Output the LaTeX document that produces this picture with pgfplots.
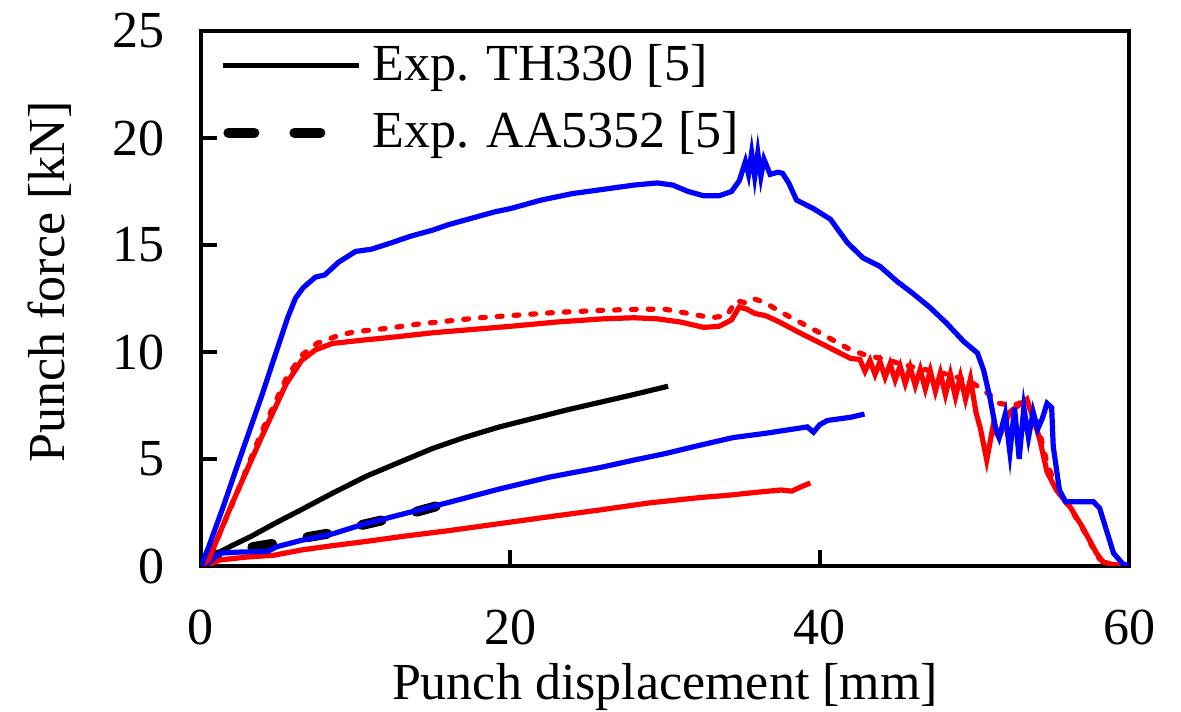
\documentclass[border=0pt]{standalone}
\usepackage{fontspec}
\setmainfont{Liberation Serif}
\usepackage{pgfplots}
\pgfplotsset{compat=1.18}
\usetikzlibrary{calc}
\definecolor{myred}{RGB}{255,0,0}
\definecolor{myblue}{RGB}{0,0,255}
\newcommand{\ff}{\fontsize{13pt}{15pt}\selectfont}
\pgfplotsset{
  longlegend/.style={legend image code/.code={\draw[##1] (0pt,0pt) -- (34pt,0pt);}},
  shortlegend/.style={legend image code/.code={\draw[##1, dash pattern=on 6.5pt off 10pt] (1.25pt,0pt) -- (25pt,0pt);}},
}
\begin{document}
\begin{tikzpicture}
\begin{axis}[name=ax, at={(0,0)}, anchor=south west,
  scale only axis, width=232pt, height=133.75pt,
  xmin=0, xmax=60, ymin=0, ymax=25,
  xtick={0,20,40,60}, ytick={0,5,10,15,20,25},
  xtick pos=left, ytick pos=left, tick align=inside, major tick length=4pt,
  every tick/.style={line width=1pt, black},
  axis line style={line width=1pt},
  /pgf/number format/assume math mode=true,
  tick label style={font=\ff},
  xticklabel style={yshift=-7.5pt},
  yticklabel style={xshift=-5.5pt},
  xlabel={Punch displacement [mm]},
  ylabel={Punch force [kN]},
  xlabel style={font=\ff, at={(axis description cs:0.5,0)}, anchor=base, yshift=-33.5pt},
  ylabel style={font=\ff, at={(axis description cs:-0.1627,0.531)}, anchor=center},
  legend style={at={(axis description cs:0,1)}, anchor=north west, xshift=4.75pt, yshift=-3.25pt,
    draw=none, fill=none, font=\ff, inner sep=0pt, row sep=6.2pt,
    nodes={inner sep=0pt},
    /tikz/every odd column/.append style={column sep=2.6pt}},
  legend cell align=left,
]
% Exp TH330 (black solid)
\addplot[black, line width=1.3pt, longlegend] coordinates {
(0,0) (0.6,0.5) (1.2,0.65) (2,0.95) (3.2,1.37) (4.8,2.0) (6.4,2.6) (8.5,3.4) (10.7,4.2) (13,4.9) (15,5.5) (17,6.0) (19.3,6.5) (21.5,6.9) (23.7,7.3) (25.8,7.65) (27.9,8.0) (30.2,8.4)
};
\addlegendentry{Exp. TH330 [5]}
% Exp AA5352 (black dashed)
\addplot[black, line width=2.5pt, line cap=round, dash pattern=on 5pt off 9pt, shortlegend] coordinates {
(0,0) (0.6,0.35) (1.2,0.6) (2.1,0.75) (3.5,0.9) (4.9,1.07) (6.5,1.3) (8.5,1.55) (10,1.85) (11.8,2.15) (14,2.55) (15.9,2.93)
};
\addlegendentry{Exp. AA5352 [5]}
% red lower
\addplot[myred, line width=1.3pt, forget plot] coordinates {
(0,0) (0.5,0.05) (1.2,0.28) (3,0.42) (4.7,0.5) (6.5,0.75) (8.5,0.95) (10.7,1.15) (13,1.38) (16,1.65) (19.3,1.98) (22.5,2.3) (25.8,2.62) (29,2.95) (32.3,3.2) (34,3.3) (36,3.45) (37.5,3.55) (38.2,3.5) (38.8,3.7) (39.4,3.88)
};
% blue lower
\addplot[myblue, line width=1.3pt, forget plot] coordinates {
(0,0) (0.4,0.1) (1.2,0.6) (2.5,0.65) (4.3,0.68) (4.9,0.9) (6.5,1.2) (8.5,1.5) (10.5,1.95) (12.9,2.4) (15.9,2.95) (19.3,3.6) (22.5,4.15) (25.8,4.6) (28,4.95) (30,5.25) (32.3,5.65) (34.4,6.0) (36.5,6.2) (39.2,6.5) (39.6,6.25) (40,6.6) (40.5,6.8) (42,6.95) (42.9,7.1)
};
% red dotted upper
\addplot[myred, line width=1.3pt, line cap=round, dash pattern=on 1.2pt off 3pt, forget plot] coordinates {
(0,0) (0.6,0.5) (2.2,3.2) (4,6.4) (5.6,8.9) (6.6,9.9) (7.5,10.4) (9,10.8) (10,10.95) (12,11.1) (14,11.3) (16,11.45) (18,11.6) (20,11.7) (23,11.85) (26,11.95) (28.5,12.0) (30,12.0) (31.5,11.8) (33,11.6) (34,11.7) (34.6,12.4) (35.2,12.3) (35.7,12.5) (36.5,12.3) (37.4,11.9) (38.7,11.4) (40,10.9) (41,10.5) (42,10.1) (43,9.85) (44,9.7) (45,9.5) (46,9.3) (47,9.15) (48,9.0) (49,8.8) (50,8.5) (51,8.0) (51.6,7.6) (52.5,7.5) (53.3,7.7) (54,6.9) (54.7,4.8) (55.4,3.5) (56.3,2.6) (57.2,1.5) (58.0,0.4) (58.5,0.1) (60,0)
};
% red solid upper
\addplot[myred, line width=1.3pt, forget plot] coordinates {
(0,0) (0.5,0.3) (2,2.9) (3.9,6.0) (5.5,8.5) (6.5,9.6) (7.4,10.1) (8.5,10.4) (10.4,10.55) (12.5,10.7) (15,10.9) (17.5,11.05) (20,11.2) (23,11.4) (26,11.55) (28,11.6) (29.5,11.55) (31,11.4) (32.5,11.15) (33.5,11.2) (34.3,11.5) (34.8,12.1) (35.3,12.0) (35.8,11.8) (36.5,11.7) (37.4,11.4) (38.7,10.9) (40.5,10.25) (42,9.7)
(42.6,9.65) (42.93,9.1) (43.25,9.6) (43.58,8.95) (43.9,9.55) (44.23,8.82) (44.55,9.44) (44.88,8.69) (45.2,9.34) (45.53,8.53) (45.85,9.28) (46.18,8.43) (46.5,9.18) (46.83,8.27) (47.15,9.12) (47.48,8.17) (47.8,9.01) (48.13,8.01) (48.45,8.96) (48.78,7.9) (49.1,8.85) (49.43,7.8) (49.75,8.75) (50.1,7.2) (50.4,6.4)
(50.8,4.95) (51.2,6.5) (51.6,6.0) (52.3,7.2) (53.4,7.8) (54.2,6.0) (54.7,4.4) (55.3,3.55) (56.2,2.75) (57,1.8) (57.9,0.6) (58.3,0.2) (59,0.05) (60,0)
};
% blue upper
\addplot[myblue, line width=1.3pt, forget plot] coordinates {
(0,0) (0.5,0.9) (1.5,2.9) (2.4,4.8) (3.9,7.9) (5.0,10.3) (5.6,11.6) (6.1,12.5) (6.6,13.0) (7.4,13.5) (8.0,13.6) (8.9,14.2) (10,14.7) (11,14.8) (12.3,15.1) (13.5,15.4) (15,15.7) (16,15.95) (17,16.15) (18,16.35) (19,16.55) (20,16.7) (22,17.1) (24,17.4) (26,17.6) (28,17.8) (29.5,17.9) (30.5,17.8) (31.5,17.5) (32.5,17.3) (33.5,17.3) (34.3,17.5) (34.8,18.0) (35.2,18.9) (35.4,18.3) (35.6,19.3) (35.8,18.2) (36.0,19.3) (36.2,18.2) (36.4,19.0) (36.8,18.3) (37.3,18.4) (37.6,18.35) (38.0,17.9) (38.5,17.1) (39.6,16.7) (40.7,16.2) (41.8,15.1) (42.8,14.4) (43.9,14.0) (45.0,13.3) (46.0,12.75) (47.1,12.1) (48.2,11.35) (49.3,10.5) (50.2,9.95) (50.6,9.15) (51,7.9) (51.4,6.35) (51.6,6.0) (52.0,7.1) (52.3,5.3) (52.6,7.4) (52.9,5.0) (53.2,7.4) (53.5,6.0) (53.8,7.2) (54.1,6.4) (54.4,6.9) (54.7,7.6) (55.0,7.4) (55.1,5.6) (55.5,3.55) (55.9,3.0) (57.7,3.0) (58.1,2.7) (59,0.6) (59.6,0.1) (60,0)
};
\end{axis}
\pgfresetboundingbox
\useasboundingbox ($(ax.south west)+(-50.25pt,-36.5pt)$) rectangle ($(ax.north east)+(13pt,7.75pt)$);
\end{tikzpicture}
\end{document}
